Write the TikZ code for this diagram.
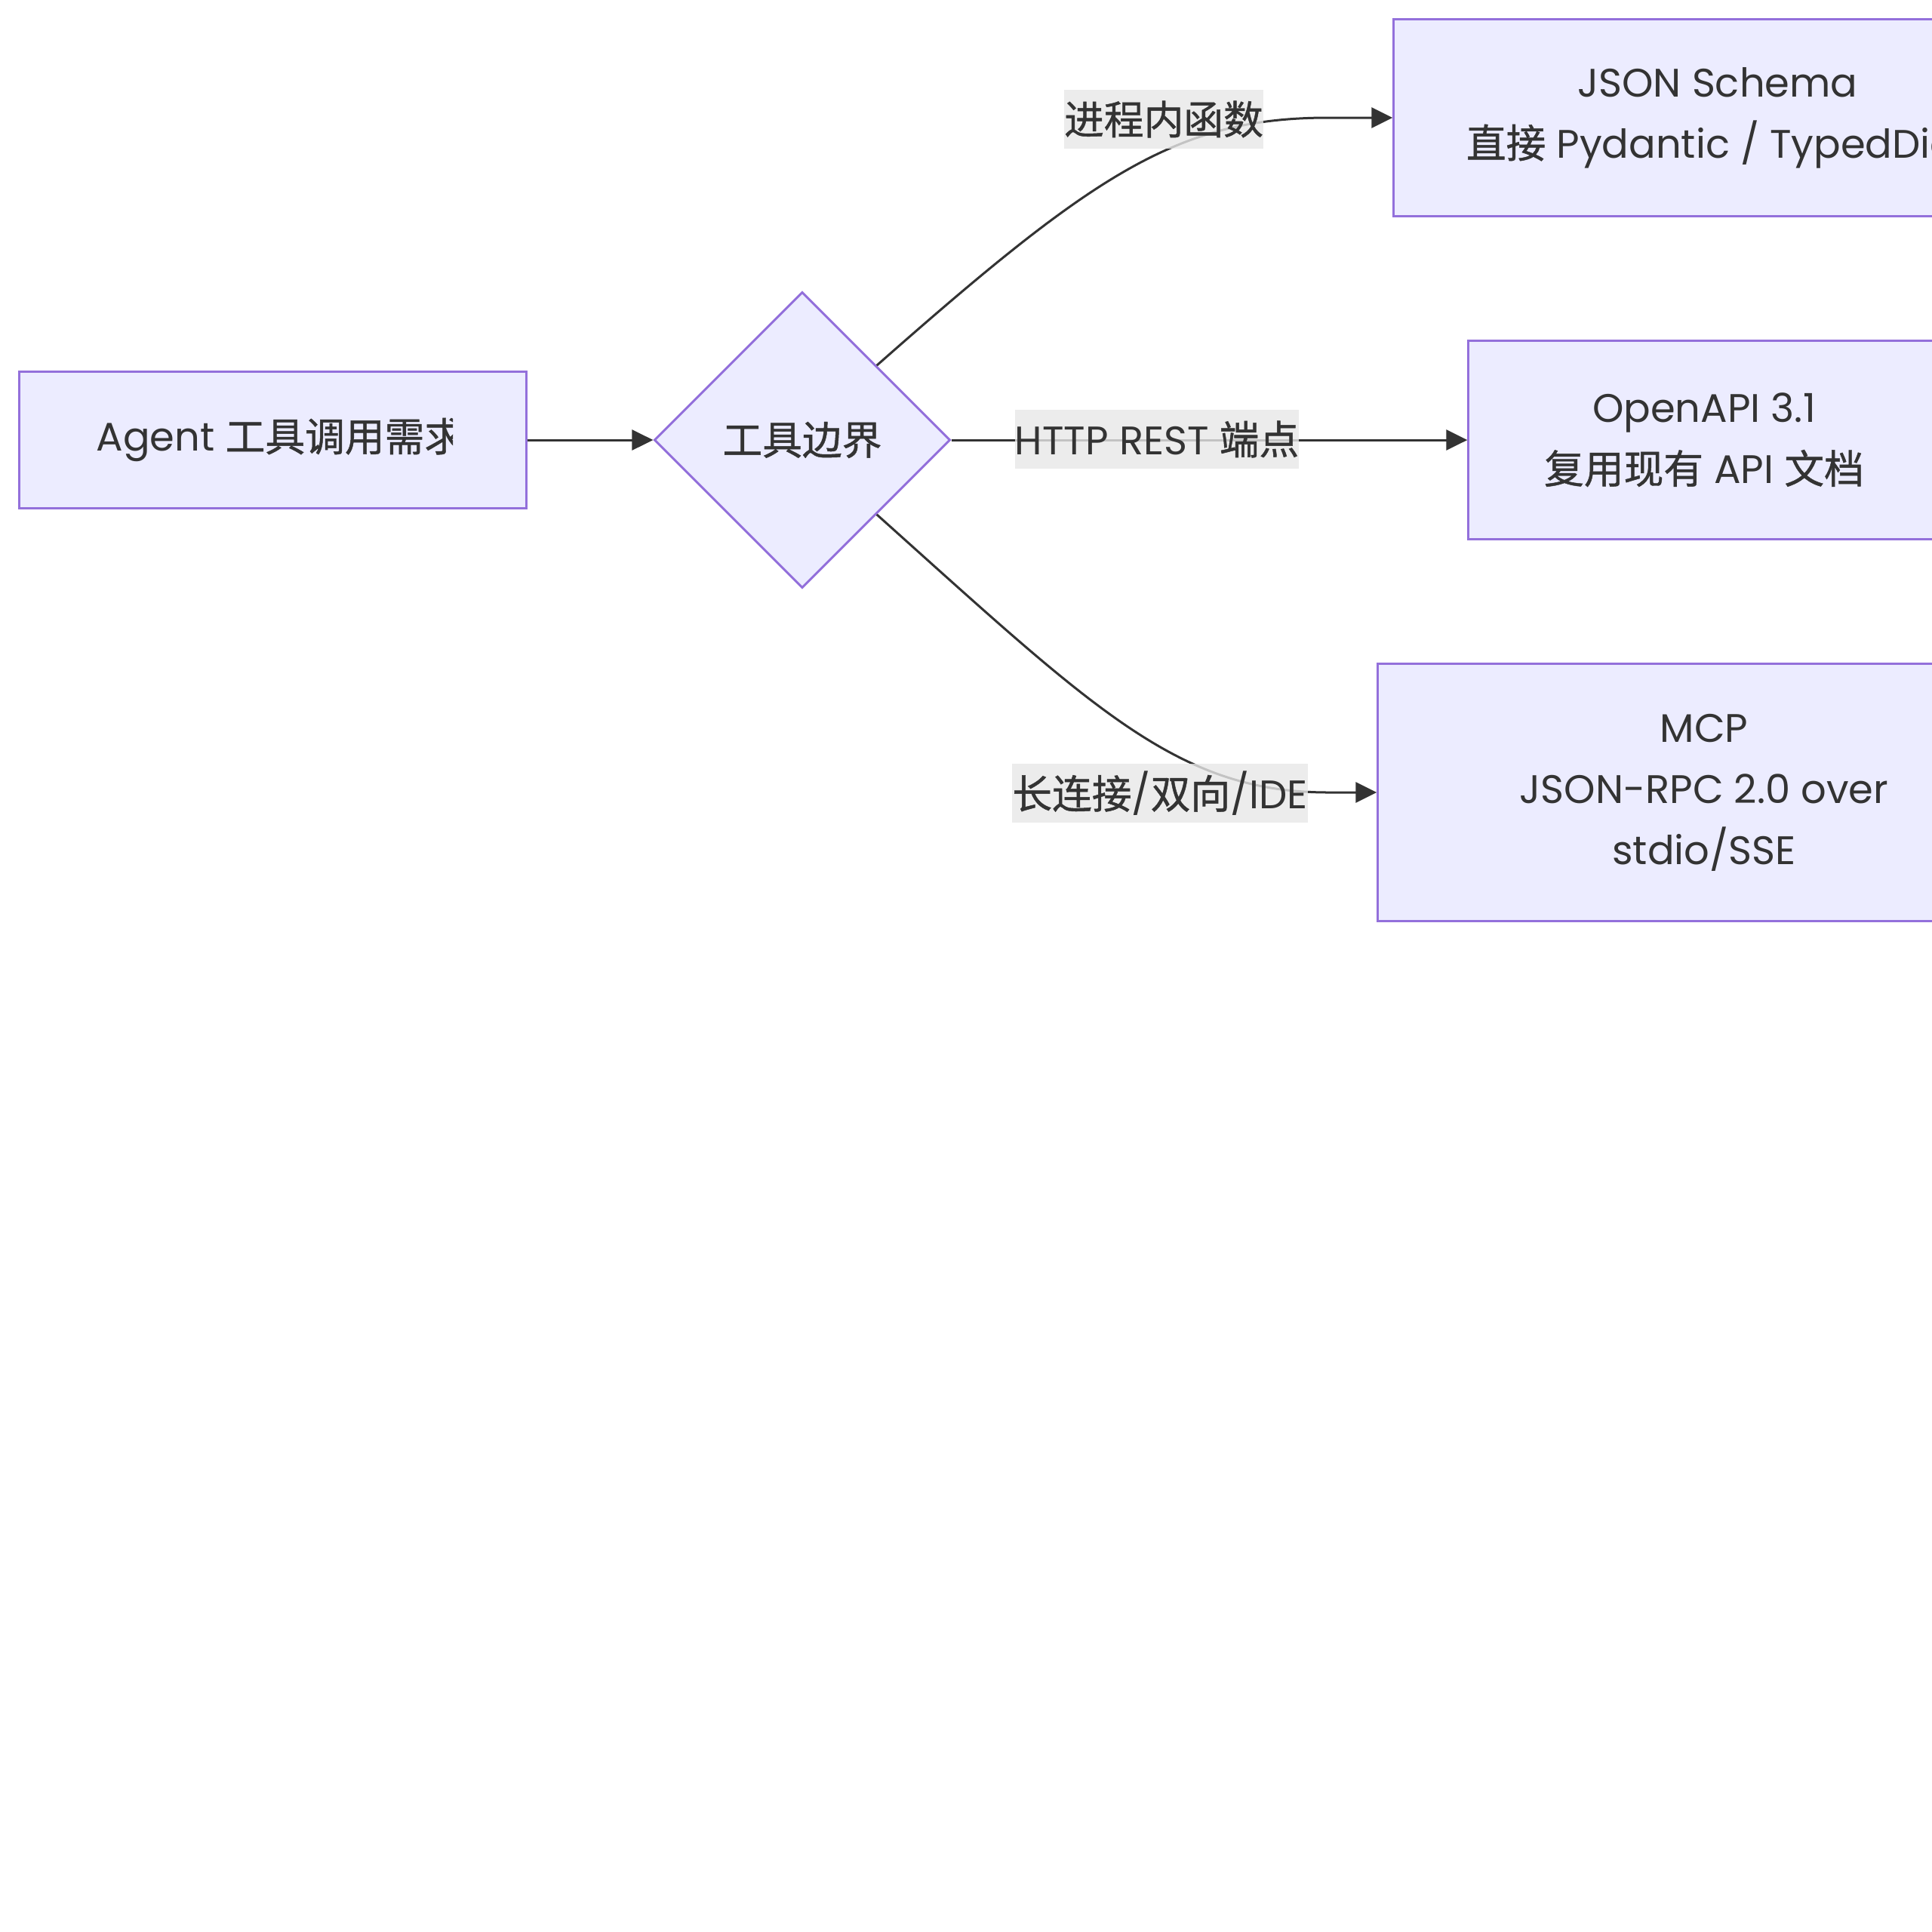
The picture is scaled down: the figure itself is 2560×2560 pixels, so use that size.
\documentclass[tikz,border=0pt]{standalone}
\usepackage{fontspec}
\setmainfont{Poppins}
\newfontfamily\cjk[FakeBold=0.9]{Noto Sans CJK SC}
\usetikzlibrary{shapes.geometric,arrows.meta}
\definecolor{nodefill}{HTML}{ECECFF}
\definecolor{nodeline}{HTML}{9370DB}
\definecolor{ink}{HTML}{333333}
\definecolor{lblbg}{HTML}{E8E8E8}
\newcommand{\zh}[1]{{\cjk #1}}
\begin{document}
\begin{tikzpicture}[x=0.01cm,y=-0.01cm,
  font=\fontsize{15pt}{23pt}\selectfont, text=ink,
  box/.style={draw=nodeline, fill=nodefill, line width=0.03cm, inner sep=0pt, align=center},
  decision/.style={diamond, draw=nodeline, fill=nodefill, line width=0.03cm, inner sep=0pt,
    minimum width=3.92cm, minimum height=3.92cm},
  edge/.style={draw=ink, line width=0.03cm, -{Triangle[length=0.28cm,width=0.27cm]}},
  lbl/.style={fill=lblbg, fill opacity=0.8, text opacity=1, inner xsep=0pt, inner ysep=0pt,
    minimum height=0.77cm}]
\useasboundingbox (0,0) rectangle (2560,2560);
\fill[white] (0,0) rectangle (2560,2560);
\clip (0,0) rectangle (2560,2560);

% nodes
\node[box, minimum width=6.71cm, minimum height=1.80cm] (req) at (361.5,583) {};
\begin{scope}
  \clip (120,493) rectangle (600,673);
  \node[anchor=west, inner sep=0pt] (reqtxt) at (127,583) {Agent \zh{工具调用需求}};
\end{scope}
\node[decision] (dec) at (1063,583) {\zh{工具边界}};
\node[box, minimum width=8.58cm, minimum height=2.60cm] (json) at (2276,156)
  {JSON Schema\\\zh{直接} Pydantic / TypedDict};
\node[box, minimum width=6.24cm, minimum height=2.62cm] (api) at (2258,583)
  {OpenAPI 3.1\\\zh{复用现有} API \zh{文档}};
\node[box, minimum width=8.64cm, minimum height=3.40cm] (mcp) at (2258,1050)
  {MCP\\JSON-RPC 2.0 over\\stdio/SSE};

% connectors
\draw[edge] (req.east) -- (dec.west);
\draw[edge] (dec.north east) .. controls (1450,230) and (1560,156) .. (1760,156) -- (json.west);
\draw[edge] (dec.east) -- (api.west);
\draw[edge] (dec.south east) .. controls (1450,940) and (1560,1050) .. (1760,1050) -- (mcp.west);

% labels
\node[lbl] (l1) at (1542,158) {\zh{进程内函数}};
\node[lbl] (l2) at (1533,582) {HTTP REST \zh{端点}};
\node[lbl] (l3) at (1537,1051) {\zh{长连接}/\zh{双向}/IDE};
\end{tikzpicture}
\end{document}
